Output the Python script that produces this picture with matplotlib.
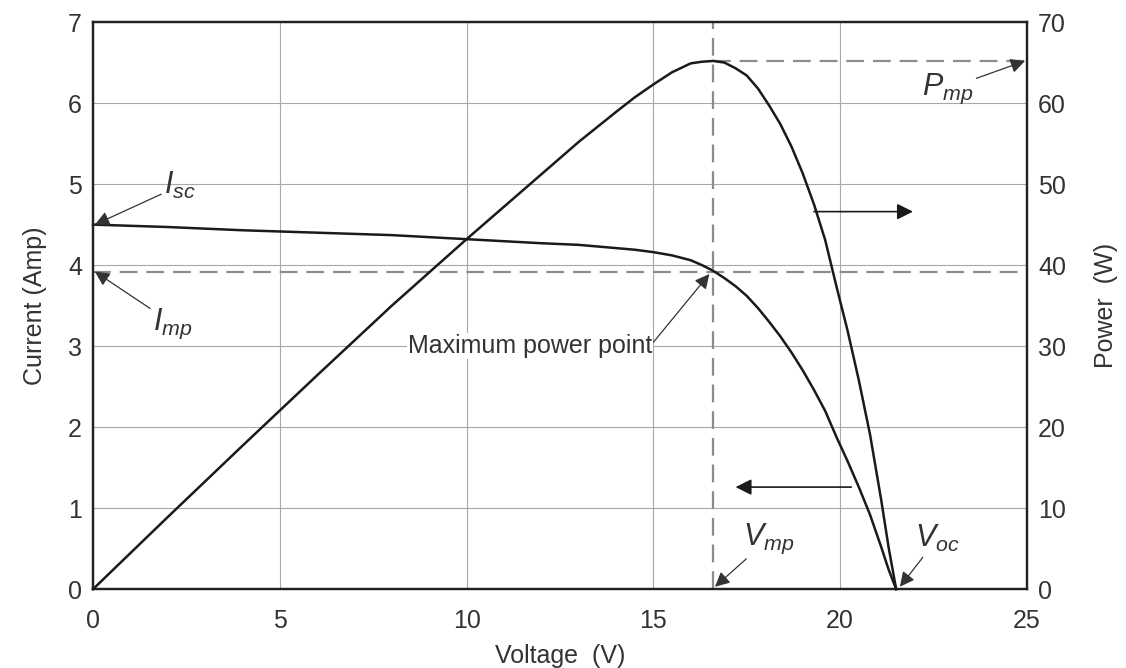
import matplotlib.pyplot as plt

plt.rcParams["font.family"] = ["Liberation Sans", "DejaVu Sans"]
plt.rcParams["mathtext.fontset"] = "custom"
plt.rcParams["mathtext.it"] = "Liberation Sans:italic"
plt.rcParams["mathtext.rm"] = "Liberation Sans"

# I-V curve
voltage_iv = [0, 2, 4, 6, 8, 10, 12, 13, 14, 14.5, 15, 15.5, 16, 16.3, 16.6,
              16.9, 17.2, 17.5, 17.8, 18.1, 18.4, 18.7, 19.0, 19.3, 19.6,
              19.9, 20.2, 20.5, 20.8, 21.1, 21.3, 21.5]
current = [4.50, 4.47, 4.43, 4.40, 4.37, 4.32, 4.27, 4.25, 4.21, 4.19, 4.16, 4.12, 4.06, 4.00, 3.93,
           3.84, 3.74, 3.62, 3.47, 3.30, 3.12, 2.92, 2.70, 2.46, 2.20,
           1.88, 1.58, 1.26, 0.92, 0.52, 0.24, 0.0]

# P-V curve
voltage_pv = [0, 2, 4, 6, 8, 10, 12, 13, 14, 14.5, 15, 15.5, 16, 16.3, 16.6,
              16.9, 17.2, 17.5, 17.8, 18.1, 18.4, 18.7, 19.0, 19.3, 19.6,
              19.9, 20.2, 20.5, 20.8, 21.1, 21.3, 21.5]
power = [0, 8.9, 17.7, 26.4, 35.0, 43.2, 51.2, 55.2, 58.9, 60.7, 62.3, 63.8, 64.9, 65.1, 65.2,
         65.0, 64.3, 63.4, 61.8, 59.7, 57.4, 54.6, 51.3, 47.5, 43.1,
         37.4, 31.9, 25.8, 19.1, 11.0, 5.1, 0.0]

v_mp = 16.6
i_mp = 3.92
p_mp = 65.2
i_sc = 4.5
v_oc = 21.5

x_ticks = [0, 5, 10, 15, 20, 25]
i_ticks = [0, 1, 2, 3, 4, 5, 6, 7]
p_ticks = [0, 10, 20, 30, 40, 50, 60, 70]

fig = plt.figure(figsize=(11.26, 6.68), dpi=100)
ax = fig.add_axes([0.0826, 0.118, 0.8294, 0.849])
ax2 = ax.twinx()

dash_kw = dict(color="#8c8c8c", lw=1.6, dashes=(8, 4))
grid_c = "#a8a8a8"

ax.set_xlim(0, 25)
ax.set_ylim(0, 7)
ax2.set_ylim(0, 70)
ax.set_xticks(x_ticks)
ax.set_yticks(i_ticks)
ax2.set_yticks(p_ticks)
ax.grid(True, color=grid_c, lw=0.8)
ax.set_axisbelow(True)

ax.plot(voltage_iv, current, color="#1a1a1a", lw=1.8, zorder=3, clip_on=False)
ax2.plot(voltage_pv, power, color="#1a1a1a", lw=1.8, zorder=3, clip_on=False)

ax.axvline(v_mp, **dash_kw, zorder=2)
ax.axhline(i_mp, **dash_kw, zorder=2)
ax2.plot([v_mp, 25], [p_mp, p_mp], **dash_kw, zorder=2)

for a in (ax, ax2):
    for s in a.spines.values():
        s.set_linewidth(1.6)
        s.set_color("#222222")
    a.tick_params(length=0, pad=8, labelsize=18, colors="#333333")
ax.tick_params(axis="x", pad=14)

ax.set_xlabel("Voltage  (V)", fontsize=18, color="#333333", labelpad=8)
ax.set_ylabel("Current (Amp)", fontsize=18, color="#333333", labelpad=15)
ax2.set_ylabel("Power  (W)", fontsize=18, color="#333333", labelpad=20)

arrow_thin = dict(arrowstyle="-|>", mutation_scale=22, lw=0.9, color="#333333",
                  shrinkA=0, shrinkB=0)
arrow_bold = dict(arrowstyle="-|>", mutation_scale=24, lw=1.2, color="#1a1a1a",
                  shrinkA=0, shrinkB=0)
lab_kw = dict(fontsize=22, color="#333333")

ax.annotate(r"$\mathit{I}_{\mathit{sc}}$", xy=(0.05, i_sc), xytext=(1.9, 4.98),
            ha="left", va="center", arrowprops=arrow_thin, **lab_kw)
ax.annotate(r"$\mathit{I}_{\mathit{mp}}$", xy=(0.05, i_mp), xytext=(1.6, 3.28),
            ha="left", va="center", arrowprops=arrow_thin, **lab_kw)
ax.annotate(r"$\mathit{V}_{\mathit{mp}}$", xy=(v_mp + 0.05, 0.03), xytext=(17.4, 0.62),
            ha="left", va="center", arrowprops=arrow_thin, **lab_kw)
ax.annotate(r"$\mathit{V}_{\mathit{oc}}$", xy=(v_oc + 0.1, 0.03), xytext=(22.0, 0.62),
            ha="left", va="center", arrowprops=arrow_thin, **lab_kw)
ax2.annotate(r"$\mathit{P}_{\mathit{mp}}$", xy=(24.95, p_mp), xytext=(22.2, 61.8),
             ha="left", va="center", arrowprops=arrow_thin, **lab_kw)

ax.annotate("Maximum power point", xy=(v_mp - 0.1, i_mp - 0.03), xytext=(11.7, 3.0),
            ha="center", va="center", fontsize=18, color="#333333",
            bbox=dict(boxstyle="square,pad=0.05", fc="white", ec="none"),
            arrowprops=dict(arrowstyle="-|>", mutation_scale=22, lw=0.9, color="#333333",
                            shrinkA=0, shrinkB=0, relpos=(1.0, 0.6)))

# direction arrows pointing to each axis
ax.annotate("", xy=(21.95, 4.66), xytext=(19.3, 4.66), arrowprops=arrow_bold)
ax.annotate("", xy=(17.2, 1.26), xytext=(20.3, 1.26), arrowprops=arrow_bold)

fig.savefig("out.png", dpi=100)
